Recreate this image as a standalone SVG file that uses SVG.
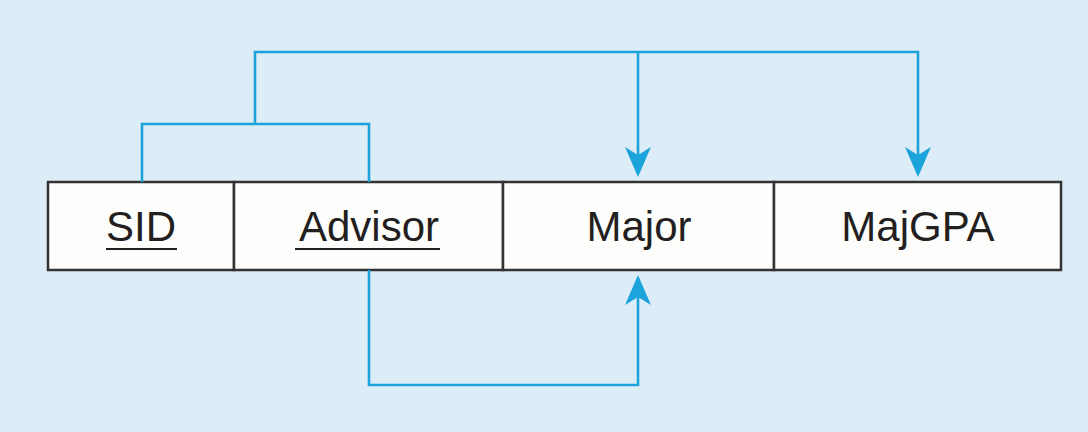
<svg xmlns="http://www.w3.org/2000/svg" width="1088" height="432" viewBox="0 0 1088 432">
<style>
.cell{fill:#fdfdfb;stroke:#333;stroke-width:2.5}
.lbl{font-family:"Liberation Sans",Arial,sans-serif;font-size:42px;fill:#231f20;text-anchor:middle}
.ul{stroke:#231f20;stroke-width:2.2}
.conn{fill:none;stroke:#1ba3dc;stroke-width:2.6}
</style>
<defs>
<marker id="ah" markerUnits="userSpaceOnUse" viewBox="-9 -14 32 28" markerWidth="32" markerHeight="28" refX="0" refY="0" orient="auto">
<path d="M22,0 L-8,-13 L0,0 L-8,13 Z" fill="#1ba3dc"/>
</marker>
</defs>
<rect width="1088" height="432" fill="#ddedf8"/>
<g id="SID">
<rect class="cell" x="48" y="182" width="186" height="88"/>
<text class="lbl" x="141" y="241">SID</text>
<line class="ul" x1="106" y1="249" x2="177" y2="249"/>
</g>
<g id="Advisor">
<rect class="cell" x="234" y="182" width="269" height="88"/>
<text class="lbl" x="369" y="241">Advisor</text>
<line class="ul" x1="295" y1="249" x2="440" y2="249"/>
</g>
<g id="Major">
<rect class="cell" x="503" y="182" width="271" height="88"/>
<text class="lbl" x="639" y="241">Major</text>
</g>
<g id="MajGPA">
<rect class="cell" x="774" y="182" width="287" height="88"/>
<text class="lbl" x="918" y="241">MajGPA</text>
</g>
<g id="connectors">
<path class="conn" d="M142,182 V124 H369 V182"/>
<path class="conn" d="M255,124 V52 H918 V155" marker-end="url(#ah)"/>
<path class="conn" d="M638,52 V155" marker-end="url(#ah)"/>
<path class="conn" d="M369,270 V385 H638 V297" marker-end="url(#ah)"/>
</g>
</svg>
